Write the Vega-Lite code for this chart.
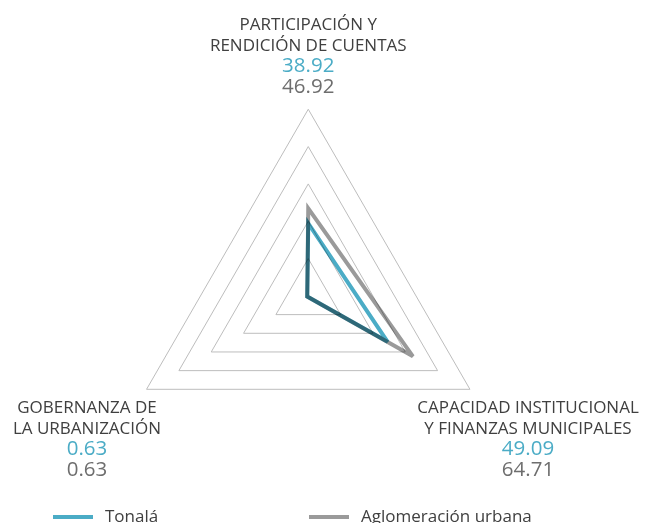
{
  "$schema": "https://vega.github.io/schema/vega-lite/v6.json",
  "width": 646,
  "height": 523,
  "padding": 0,
  "autosize": {"type": "none"},
  "background": "white",
  "config": {"view": {"stroke": null}, "font": "Open Sans"},
  "datasets": {
    "grid": [
      {"level": 20, "k": 0}, {"level": 20, "k": 1}, {"level": 20, "k": 2},
      {"level": 40, "k": 0}, {"level": 40, "k": 1}, {"level": 40, "k": 2},
      {"level": 60, "k": 0}, {"level": 60, "k": 1}, {"level": 60, "k": 2},
      {"level": 80, "k": 0}, {"level": 80, "k": 1}, {"level": 80, "k": 2},
      {"level": 100, "k": 0}, {"level": 100, "k": 1}, {"level": 100, "k": 2}
    ],
    "scores": [
      {"k": 0, "serie": "Tonalá", "value": 38.92},
      {"k": 1, "serie": "Tonalá", "value": 49.09},
      {"k": 2, "serie": "Tonalá", "value": 0.63},
      {"k": 0, "serie": "Aglomeración urbana", "value": 46.92},
      {"k": 1, "serie": "Aglomeración urbana", "value": 64.71},
      {"k": 2, "serie": "Aglomeración urbana", "value": 0.63}
    ],
    "axes": [
      {"k": 0, "l1": "PARTICIPACIÓN Y", "l2": "RENDICIÓN DE CUENTAS"},
      {"k": 1, "l1": "CAPACIDAD INSTITUCIONAL", "l2": "Y FINANZAS MUNICIPALES"},
      {"k": 2, "l1": "GOBERNANZA DE", "l2": "LA URBANIZACIÓN"}
    ]
  },
  "layer": [
    {
      "data": {"name": "grid"},
      "transform": [
        {"calculate": "datum.level * sin(datum.k * 2 * PI / 3)", "as": "px"},
        {"calculate": "datum.level * cos(datum.k * 2 * PI / 3)", "as": "py"}
      ],
      "mark": {"type": "line", "interpolate": "linear-closed", "stroke": "#BDBDBD", "strokeWidth": 1},
      "encoding": {
        "x": {"field": "px", "type": "quantitative", "scale": {"domain": [-165.1, 180.9], "nice": false, "zero": false}, "axis": null},
        "y": {"field": "py", "type": "quantitative", "scale": {"domain": [-121.6, 158.5], "nice": false, "zero": false}, "axis": null},
        "detail": {"field": "level", "type": "nominal"},
        "order": {"field": "k", "type": "quantitative"}
      }
    },
    {
      "data": {"name": "scores"},
      "transform": [
        {"calculate": "datum.value * sin(datum.k * 2 * PI / 3)", "as": "px"},
        {"calculate": "datum.value * cos(datum.k * 2 * PI / 3)", "as": "py"}
      ],
      "mark": {"type": "line", "interpolate": "linear-closed", "strokeWidth": 4, "strokeJoin": "miter", "blend": "multiply"},
      "encoding": {
        "x": {"field": "px", "type": "quantitative", "scale": {"domain": [-165.1, 180.9], "nice": false, "zero": false}, "axis": null},
        "y": {"field": "py", "type": "quantitative", "scale": {"domain": [-121.6, 158.5], "nice": false, "zero": false}, "axis": null},
        "color": {
          "field": "serie", "type": "nominal",
          "scale": {"domain": ["Tonalá", "Aglomeración urbana"], "range": ["#4BACC6", "#9A9A9A"]},
          "legend": {
            "title": null, "orient": "none", "legendX": 51, "legendY": 495, "direction": "horizontal",
            "symbolType": "stroke", "symbolSize": 1600, "symbolStrokeWidth": 4,
            "labelFontSize": 17, "labelColor": "#404040", "labelFont": "Open Sans", "labelOffset": 10,
            "labelLimit": 400, "columnPadding": 142
          }
        },
        "order": {"field": "k", "type": "quantitative"}
      }
    },
    {
      "data": {"name": "axes"},
      "transform": [
        {"calculate": "datum.k == 0 ? 0 : (datum.k == 1 ? 117.7 : -118.5)", "as": "px"},
        {"calculate": "datum.k == 0 ? 142.6 : -62.5", "as": "py"}
      ],
      "mark": {"type": "text", "align": "center", "baseline": "alphabetic", "fontSize": 17, "fill": "#404040", "dy": 0},
      "encoding": {
        "x": {"field": "px", "type": "quantitative", "scale": {"domain": [-165.1, 180.9], "nice": false, "zero": false}, "axis": null},
        "y": {"field": "py", "type": "quantitative", "scale": {"domain": [-121.6, 158.5], "nice": false, "zero": false}, "axis": null},
        "text": {"field": "l1"}
      }
    },
    {
      "data": {"name": "axes"},
      "transform": [
        {"calculate": "datum.k == 0 ? 0 : (datum.k == 1 ? 117.7 : -118.5)", "as": "px"},
        {"calculate": "datum.k == 0 ? 142.6 : -62.5", "as": "py"}
      ],
      "mark": {"type": "text", "align": "center", "baseline": "alphabetic", "fontSize": 17, "fill": "#404040", "dy": 21},
      "encoding": {
        "x": {"field": "px", "type": "quantitative", "scale": {"domain": [-165.1, 180.9], "nice": false, "zero": false}, "axis": null},
        "y": {"field": "py", "type": "quantitative", "scale": {"domain": [-121.6, 158.5], "nice": false, "zero": false}, "axis": null},
        "text": {"field": "l2"}
      }
    },
    {
      "data": {"name": "scores"},
      "transform": [
        {"filter": "datum.serie == 'Tonalá'"},
        {"calculate": "datum.k == 0 ? 0 : (datum.k == 1 ? 117.7 : -118.5)", "as": "px"},
        {"calculate": "datum.k == 0 ? 142.6 : -62.5", "as": "py"}
      ],
      "mark": {"type": "text", "align": "center", "baseline": "alphabetic", "fontSize": 20.5, "fill": "#4BACC6", "dy": 42},
      "encoding": {
        "x": {"field": "px", "type": "quantitative", "scale": {"domain": [-165.1, 180.9], "nice": false, "zero": false}, "axis": null},
        "y": {"field": "py", "type": "quantitative", "scale": {"domain": [-121.6, 158.5], "nice": false, "zero": false}, "axis": null},
        "text": {"field": "value", "type": "quantitative", "format": ".2f"}
      }
    },
    {
      "data": {"name": "scores"},
      "transform": [
        {"filter": "datum.serie == 'Aglomeración urbana'"},
        {"calculate": "datum.k == 0 ? 0 : (datum.k == 1 ? 117.7 : -118.5)", "as": "px"},
        {"calculate": "datum.k == 0 ? 142.6 : -62.5", "as": "py"}
      ],
      "mark": {"type": "text", "align": "center", "baseline": "alphabetic", "fontSize": 20.5, "fill": "#6E6E6E", "dy": 63},
      "encoding": {
        "x": {"field": "px", "type": "quantitative", "scale": {"domain": [-165.1, 180.9], "nice": false, "zero": false}, "axis": null},
        "y": {"field": "py", "type": "quantitative", "scale": {"domain": [-121.6, 158.5], "nice": false, "zero": false}, "axis": null},
        "text": {"field": "value", "type": "quantitative", "format": ".2f"}
      }
    }
  ]
}
